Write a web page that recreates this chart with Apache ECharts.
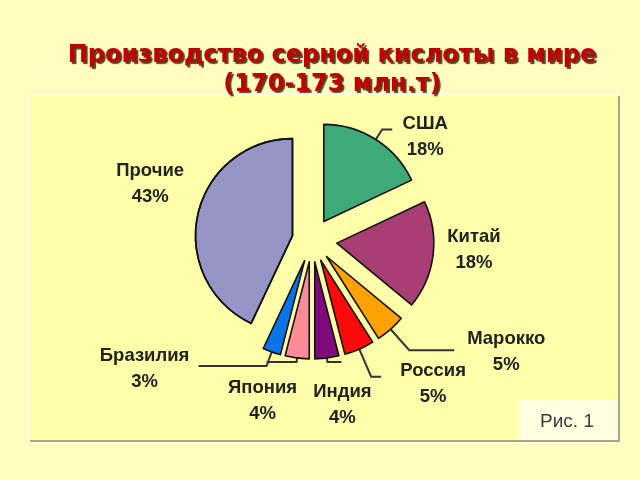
<!DOCTYPE html>
<html><head><meta charset="utf-8">
<script src="https://cdn.jsdelivr.net/npm/echarts@6/dist/echarts.min.js"></script>
<style>html,body{margin:0;padding:0;background:#FFFEC0}#c{width:640px;height:480px}</style>
</head><body><div id="c"></div>
<script>
// ---- data ----
const categories = ['США', 'Китай', 'Марокко', 'Россия', 'Индия', 'Япония', 'Бразилия', 'Прочие'];
const shares = [18, 18, 5, 5, 4, 4, 3, 43];
const titleText = 'Производство серной кислоты в мире\n(170-173 млн.т)';
const captionText = 'Рис. 1';

// ---- style ----
const sliceColors = ['#3DAA78', '#A83E74', '#FFA200', '#FF0A0A', '#7E0A7E', '#FF8C96', '#0A74E6', '#9C9CCE'];
const explode = [22, 25, 22, 22, 22, 22, 22, 20];
const lineLen = [[12, 10], null, [28, 45], [30, 10], [4, 14], [4, 30], [15, 68], null];
const labelShift = [[28, 8], [6, -7], [47, 2], [47, 7], [-4, 43], [1, 39], [-49, 3], [-13, -27]];

const chart = echarts.init(document.getElementById('c'), null, {renderer: 'canvas'});

const series = categories.map((name, k) => ({
  type: 'pie',
  center: [312, 240],
  radius: [0, 97],
  startAngle: 90,
  clockwise: true,
  selectedMode: 'multiple',
  selectedOffset: explode[k],
  silent: true,
  avoidLabelOverlap: false,
  label: {
    show: true, position: 'outside', formatter: '{b}\n{c}%',
    fontFamily: 'Liberation Sans', fontSize: 18.5, fontWeight: 'bold',
    color: '#222', lineHeight: 26
  },
  labelLine: {lineStyle: {color: '#333', width: 2}},
  labelLayout: (p) => ({align: 'center', dx: labelShift[p.dataIndex][0], dy: labelShift[p.dataIndex][1]}),
  data: categories.map((n, i) => {
    if (i === k) {
      const ll = lineLen[i];
      return {
        name: n, value: shares[i], selected: true,
        itemStyle: Object.assign({color: sliceColors[i], borderColor: '#111', borderWidth: 1.6},
          i === 7 ? {decal: {symbol: 'rect', symbolSize: 1, dashArrayX: [1, 1], dashArrayY: [1, 1], color: 'rgba(60,60,110,0.28)'}} : {}),
        labelLine: ll ? {show: true, length: ll[0], length2: ll[1]} : {show: false, length: 15, length2: 15}
      };
    }
    return {name: n, value: shares[i], itemStyle: {color: 'rgba(0,0,0,0)', borderWidth: 0},
      label: {show: false}, labelLine: {show: false}};
  })
}));

chart.setOption({
  animation: false,
  backgroundColor: '#FFFEC0',
  title: {
    text: titleText,
    left: 327, top: 36, textAlign: 'center',
    textStyle: {
      fontFamily: 'DejaVu Sans', fontSize: 24, fontWeight: 'bold', color: '#BE0000', lineHeight: 29,
      textShadowColor: 'rgba(40,20,0,0.8)', textShadowOffsetX: 2, textShadowOffsetY: 2, textShadowBlur: 1
    }
  },
  graphic: [
    {type: 'rect', z: 0, shape: {x: 30, y: 96, width: 589, height: 345},
      style: {fill: '#FFFFAA', stroke: null}},
    {type: 'polyline', z: 1, shape: {points: [[29, 441], [29, 95], [619, 95]]},
      style: {stroke: '#FFFFEE', lineWidth: 1.5, fill: null}},
    {type: 'polyline', z: 1, shape: {points: [[30, 441], [619, 441], [619, 96]]},
      style: {stroke: '#A5A58A', lineWidth: 2, fill: null}},
    {type: 'rect', z: 1, shape: {x: 519, y: 400, width: 99, height: 40},
      style: {fill: '#FFFFE4'}},
    {type: 'text', z: 2, x: 567, y: 422,
      style: {text: captionText, fontFamily: 'Liberation Sans', fontSize: 19, fill: '#3A3A3A', align: 'center', verticalAlign: 'middle'}}
  ],
  series: series
});
</script></body></html>
